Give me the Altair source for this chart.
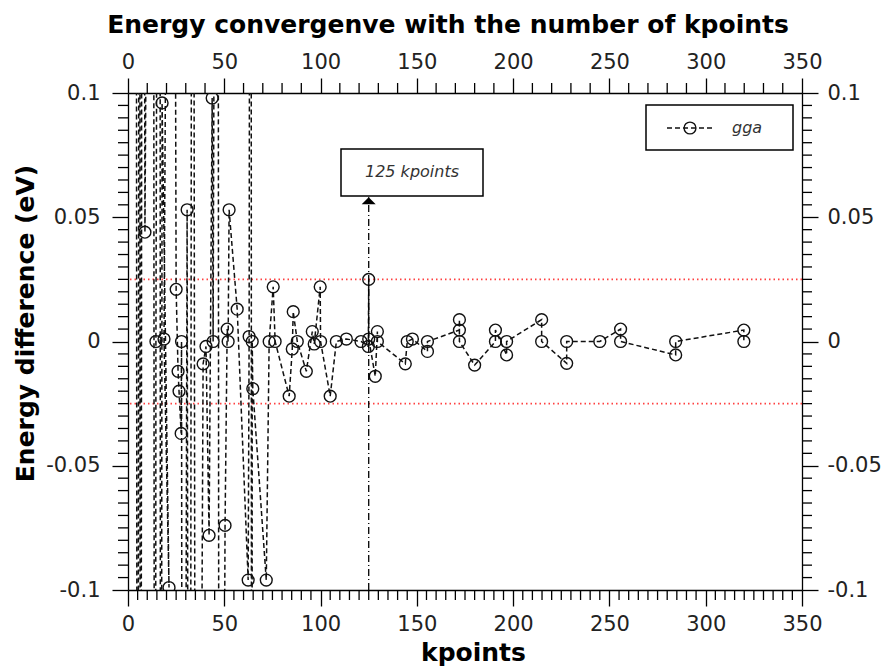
import altair as alt
import pandas as pd

# ---------------- data ----------------
kpoints = [4, 5, 6, 6.5, 7.5, 8.8, 13, 14, 14.5, 16.5,
           17, 17.7, 21.3, 18.7, 23, 25.0, 26.0, 26.5, 27.6, 27.8,
           28.5, 30.7, 32, 33.5, 35.5, 39.0, 40.5, 42.1, 43.7, 44.2,
           46.5, 47.5, 50.4, 51.5, 52.0, 52.5, 56.7, 62.4, 62.9, 63.8,
           64.3, 64.5, 64.8, 71.8, 73.3, 75.4, 76.4, 83.7, 85.3, 85.8,
           87.9, 92.6, 95.7, 96.7, 99.8, 100.0, 105.0, 108.2, 113.4, 121.0,
           124.8, 125.0, 125.0, 128.4, 129.5, 129.5, 144.0, 145.0, 147.7, 155.5,
           155.5, 172.1, 172.1, 172.1, 180.0, 190.8, 190.8, 196.6, 196.6, 214.8,
           214.8, 227.8, 227.8, 245.0, 255.8, 255.8, 284.4, 284.4, 319.8, 319.8]
energy_diff = [0.6, -0.6, 0.6, -0.6, 0.6, 0.044, 0.6, -0.6, 0.0, 0.6,
               -0.6, 0.096, -0.099, 0.001, 0.6, 0.021, -0.012, -0.020, -0.037, 0.0,
               -0.6, 0.053, -0.6, 0.6, -0.6, -0.009, -0.002, -0.078, 0.098, 0.0,
               0.6, -0.6, -0.074, 0.005, 0.0, 0.053, 0.013, -0.096, 0.002, 0.6,
               -0.6, 0.0, -0.019, -0.096, 0.0, 0.022, 0.0, -0.022, -0.003, 0.012,
               0.0, -0.012, 0.004, -0.001, 0.022, 0.0, -0.022, 0.0, 0.001, 0.0,
               -0.002, 0.025, 0.001, -0.014, 0.004, 0.0, -0.009, 0.0, 0.001, -0.004,
               0.0, 0.0046, 0.0088, 0.0, -0.0095, 0.0, 0.0046, -0.0054, 0.0, 0.0088,
               0.0, -0.0088, 0.0, 0.0, 0.005, 0.0, -0.0054, 0.0, 0.0046, 0.0]
series_name = ["gga"]
threshold = [-0.025, 0.025]
highlight_k = [125]
highlight_text = ["125 kpoints"]
arrow_bottom = [-0.1]
arrow_top = [0.058]

x_ticks = [0, 50, 100, 150, 200, 250, 300, 350]
y_ticks = [-0.1, -0.05, 0, 0.05, 0.1]
x_minor_bottom = [v for v in range(5, 350, 5) if v % 50]
x_minor_top = [v for v in range(10, 350, 10) if v % 50]
y_minor = [round(-0.1 + 0.005 * i, 3) for i in range(1, 40) if i % 10]

# ---------------- styling ----------------
W, H = 674, 497
FONT = "DejaVu Sans"
xs = alt.Scale(domain=[0, 350], nice=False, zero=False)
ys = alt.Scale(domain=[-0.1, 0.1], nice=False, zero=False)
ax = dict(domainColor="black", domainWidth=1.3, tickColor="black", tickWidth=1.3,
          labelFont=FONT, labelFontSize=21, labelColor="#222", labelFlush=False,
          labelOverlap=False, grid=False)
ttl = dict(titleFont=FONT, titleFontSize=25, titleFontWeight="bold", titleColor="black")
ylab = "datum.value == 0 ? '0' : '' + datum.value"

df = pd.DataFrame({"kpoints": kpoints, "energy": energy_diff,
                   "order": list(range(len(kpoints)))})
base = alt.Chart(df)

thresholds = alt.Chart(pd.DataFrame({"t": threshold})).mark_rule(
    color="#ff4040", strokeWidth=1.8, strokeDash=[1.5, 3]
).encode(y=alt.Y("t:Q", scale=ys, axis=None))

line = base.mark_line(clip=True, color="#111", strokeWidth=1.5, strokeDash=[5, 3]).encode(
    x=alt.X("kpoints:Q", scale=xs,
            axis=alt.Axis(orient="bottom", values=x_ticks, tickSize=16, labelPadding=7,
                          title="kpoints", titleX=345, titleY=70,
                          titleBaseline="alphabetic", **ax, **ttl)),
    y=alt.Y("energy:Q", scale=ys,
            axis=alt.Axis(orient="left", values=y_ticks, tickSize=16, labelPadding=12,
                          labelExpr=ylab, title="Energy difference (eV)",
                          titleX=-95, titleY=230, titleBaseline="alphabetic",
                          **ax, **ttl)),
    order="order:Q",
)

points = base.mark_point(shape="circle", filled=False, size=140, color="#111",
                         strokeWidth=1.4, clip=True, opacity=1).encode(
    x=alt.X("kpoints:Q", scale=xs, axis=None),
    y=alt.Y("energy:Q", scale=ys, axis=None),
)

frame = base.mark_point(opacity=0, clip=True).encode(
    x=alt.X("kpoints:Q", scale=xs,
            axis=alt.Axis(orient="top", values=x_ticks, tickSize=15, labelPadding=6,
                          title=None, **ax)),
    y=alt.Y("energy:Q", scale=ys,
            axis=alt.Axis(orient="right", values=y_ticks, tickSize=16, labelPadding=9,
                          labelExpr=ylab, title=None, **ax)),
)

tick_style = dict(color="black", strokeWidth=1.3)
minor_bottom = alt.Chart(pd.DataFrame({"v": x_minor_bottom})).mark_rule(**tick_style).encode(
    x=alt.X("v:Q", scale=xs, axis=None), y=alt.value(H), y2=alt.value(H + 10))
minor_top = alt.Chart(pd.DataFrame({"v": x_minor_top})).mark_rule(**tick_style).encode(
    x=alt.X("v:Q", scale=xs, axis=None), y=alt.value(0), y2=alt.value(-10))
minor_left = alt.Chart(pd.DataFrame({"v": y_minor})).mark_rule(**tick_style).encode(
    y=alt.Y("v:Q", scale=ys, axis=None), x=alt.value(0), x2=alt.value(-10))
minor_right = alt.Chart(pd.DataFrame({"v": y_minor})).mark_rule(**tick_style).encode(
    y=alt.Y("v:Q", scale=ys, axis=None), x=alt.value(W), x2=alt.value(W + 10))

ann_df = pd.DataFrame({"k": highlight_k, "y0": arrow_bottom, "y1": arrow_top,
                       "label": highlight_text})
ann_rule = alt.Chart(ann_df).mark_rule(color="black", strokeWidth=1.3,
                                       strokeDash=[7, 3, 1, 3]).encode(
    x=alt.X("k:Q", scale=xs, axis=None),
    y=alt.Y("y0:Q", scale=ys, axis=None), y2="y1:Q")
ann_head = alt.Chart(ann_df).mark_point(shape="M0,0L1,1L-1,1Z", filled=True, size=196,
                                        color="black", opacity=1).encode(
    x=alt.X("k:Q", scale=xs, axis=None), y=alt.Y("y1:Q", scale=ys, axis=None))
ann_box = alt.Chart(ann_df).mark_rect(fill="white", stroke="black", strokeWidth=1.5).encode(
    x=alt.value(213), x2=alt.value(355), y=alt.value(56), y2=alt.value(103))
ann_text = alt.Chart(ann_df).mark_text(font=FONT, fontSize=16, fontStyle="italic",
                                       color="#333", align="center", baseline="middle").encode(
    x=alt.value(284), y=alt.value(79), text="label:N")

leg_df = pd.DataFrame({"label": series_name})
leg_box = alt.Chart(leg_df).mark_rect(fill="white", stroke="black", strokeWidth=1.5).encode(
    x=alt.value(518), x2=alt.value(665), y=alt.value(12), y2=alt.value(57))
leg_line = alt.Chart(leg_df).mark_rule(color="#111", strokeWidth=1.5, strokeDash=[5, 3]).encode(
    x=alt.value(539), x2=alt.value(587), y=alt.value(35))
leg_pt = alt.Chart(leg_df).mark_point(shape="circle", filled=False, size=140, color="#111",
                                      strokeWidth=1.4, opacity=1).encode(
    x=alt.value(562), y=alt.value(35))
leg_text = alt.Chart(leg_df).mark_text(font=FONT, fontSize=16, fontStyle="italic",
                                       color="#333", align="left", baseline="middle").encode(
    x=alt.value(604), y=alt.value(35), text="label:N")

chart = alt.layer(
    thresholds, line, points, frame,
    minor_bottom, minor_top, minor_left, minor_right,
    ann_rule, ann_head, ann_box, ann_text,
    leg_box, leg_line, leg_pt, leg_text,
).resolve_axis(x="independent", y="independent").properties(
    width=W, height=H,
    autosize=alt.AutoSizeParams(type="none"),
    padding={"left": 120, "top": 85, "right": 80, "bottom": 77},
    title=alt.TitleParams(text="Energy convergenve with the number of kpoints",
                          font=FONT, fontSize=25, fontWeight="bold", color="black",
                          anchor="middle", frame="group", dx=-17, offset=13),
).configure_view(strokeWidth=0)

chart.save("out.html", embed_options={"renderer": "svg", "actions": False})
